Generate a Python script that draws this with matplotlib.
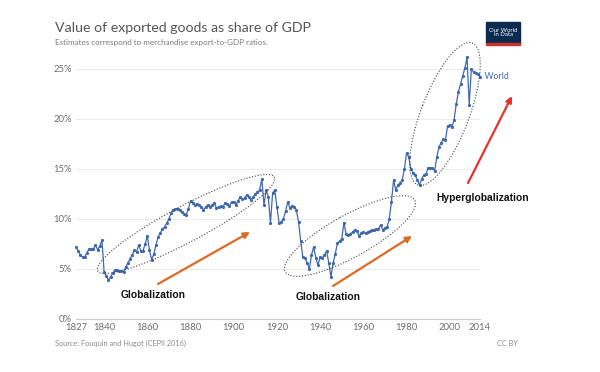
import matplotlib.pyplot as plt
from matplotlib.patches import Ellipse, Rectangle

# world merchandise exports as % of GDP (1827-2014)
years = list(range(1827, 2015))
share = [
    7.2, 6.8, 6.4, 6.2, 6.2, 6.6, 7.0, 7.0, 7.0, 7.4, 6.9, 7.3, 7.9,
    4.7, 4.3, 3.9, 4.2, 4.6, 4.9, 4.9, 4.8, 4.8, 4.7,
    5.2, 5.6, 6.0, 6.4, 6.9, 6.7, 7.4, 6.8, 6.8, 7.5,
    8.3, 6.9, 5.9, 6.5, 7.4, 8.2, 8.6, 9.0, 9.2, 9.6,
    10.0, 10.6, 10.9, 11.0, 11.0, 10.9, 10.7, 10.5, 10.4, 11.0,
    11.8, 11.6, 11.4, 11.5, 11.4, 11.2, 10.9, 11.2, 11.4, 11.2,
    11.4, 11.6, 11.1, 11.2, 11.3, 11.2, 11.6, 11.5, 11.3, 11.7,
    11.7, 11.4, 11.8, 12.2, 12.0, 12.1, 12.4, 12.2, 11.9, 12.2,
    12.5, 12.7, 12.9, 14.0, 11.4, 12.9, 12.2, 9.6, 12.6, 12.9,
    11.2, 9.6, 9.7, 10.0, 10.8, 11.7, 11.1, 11.3, 11.2, 10.9,
    9.7, 7.8, 6.2, 6.1, 5.6, 5.0, 6.4, 7.2, 6.1, 5.4,
    6.2, 6.1, 6.4, 6.8, 5.6, 4.2, 5.6, 6.5, 7.6, 7.8,
    8.0, 9.6, 8.5, 8.4, 8.5, 8.7, 8.9, 8.8, 8.3, 8.6,
    8.7, 8.6, 8.7, 8.8, 8.9, 8.9, 9.0, 9.0, 9.4, 8.9,
    9.1, 9.2, 10.0, 11.7, 13.9, 12.9, 13.4, 13.6, 13.9, 15.0,
    16.6, 16.2, 15.0, 14.6, 14.4, 13.9, 13.4, 14.0, 14.4, 14.5,
    15.1, 15.1, 15.1, 14.8, 16.2, 17.2, 17.6, 18.0, 17.9, 19.3,
    19.4, 19.2, 19.9, 21.5, 22.7, 23.5, 24.3, 25.1, 26.2, 21.4,
    25.0, 24.7, 24.6, 24.5, 24.2,
]
xticks = [1827, 1840, 1860, 1880, 1900, 1920, 1940, 1960, 1980, 2000, 2014]
yticks = [0, 5, 10, 15, 20, 25]

owid = 'Lato'
blue = '#4069ad'
orange = '#dd6a24'

fig = plt.figure(figsize=(6, 3.72), dpi=100)
ax = fig.add_axes([0.1267, 0.1425, 0.6733, 0.7124])
ax.plot(years, share, color=blue, lw=0.9, marker='o', ms=1.3, clip_on=False)
ax.set_xlim(1827, 2014)
ax.set_ylim(0, 26.5)
ax.set_xticks(xticks)
ax.set_yticks(yticks)
ax.set_yticklabels([str(v) + '%' for v in yticks])
for s in ['top', 'right', 'left']:
    ax.spines[s].set_visible(False)
ax.spines['bottom'].set_color('#cccccc')
ax.tick_params(length=0, labelsize=6.8, labelcolor='#6e6e6e', pad=3)
for lab in ax.get_xticklabels() + ax.get_yticklabels():
    lab.set_family(owid)
ax.grid(axis='y', color='#e8e8e8', lw=0.6)
ax.set_axisbelow(True)
ax.text(2014, share[-1], '  World', color=blue, fontsize=6.3, family=owid,
        va='center', ha='left', clip_on=False)

# overlay in pixel units (y pointing down) for the annotations
ov = fig.add_axes([0, 0, 1, 1], facecolor='none')
ov.set_xlim(0, 600)
ov.set_ylim(372, 0)
ov.axis('off')

fig.text(55 / 600, 1 - 28 / 372, 'Value of exported goods as share of GDP',
         family=owid, fontsize=10.2, color='#555555', va='center')
fig.text(55 / 600, 1 - 43 / 372, 'Estimates correspond to merchandise export-to-GDP ratios.',
         family=owid, fontsize=5.8, color='#7a7a7a', va='center')
fig.text(55 / 600, 1 - 343 / 372, 'Source: Fouquin and Hugot (CEPII 2016)',
         family=owid, fontsize=5.3, color='#8a8a8a', va='center')
fig.text(518 / 600, 1 - 343 / 372, 'CC BY',
         family=owid, fontsize=5.3, color='#8a8a8a', va='center', ha='right')

# logo
ov.add_patch(Rectangle((486, 22), 34, 21, color='#0b2a50'))
ov.add_patch(Rectangle((486, 43), 34, 2, color='#c8312a'))
ov.text(503, 32.5, 'Our World\nin Data', color='white', fontsize=4.3, family=owid,
        ha='center', va='center', linespacing=1.0)

# dotted ellipses around the three phases
for c, w, h, ang in [((186, 224), 200, 36, -28),
                     ((350, 236), 148, 42, -29),
                     ((445, 114), 152, 48, -69)]:
    ov.add_patch(Ellipse(c, w, h, angle=ang, fill=False, color='#444444',
                         lw=0.8, ls=(0, (1, 1.6))))

# arrows
for start, end, col in [((158, 284), (250, 232), orange),
                        ((333, 286), (412, 236), orange),
                        ((468, 183), (512, 96), '#e8322b')]:
    ov.annotate('', xy=end, xytext=start,
                arrowprops=dict(arrowstyle='-|>', color=col, lw=1.6,
                                mutation_scale=9, shrinkA=0, shrinkB=0))

bold = dict(family='Liberation Sans', fontweight='bold', fontsize=7.4,
            color='#111111', ha='center', va='center')
ov.text(153, 295, 'Globalization', **bold)
ov.text(328, 297, 'Globalization', **bold)
ov.text(483, 198, 'Hyperglobalization', **bold)

plt.savefig('out.png', dpi=100)
